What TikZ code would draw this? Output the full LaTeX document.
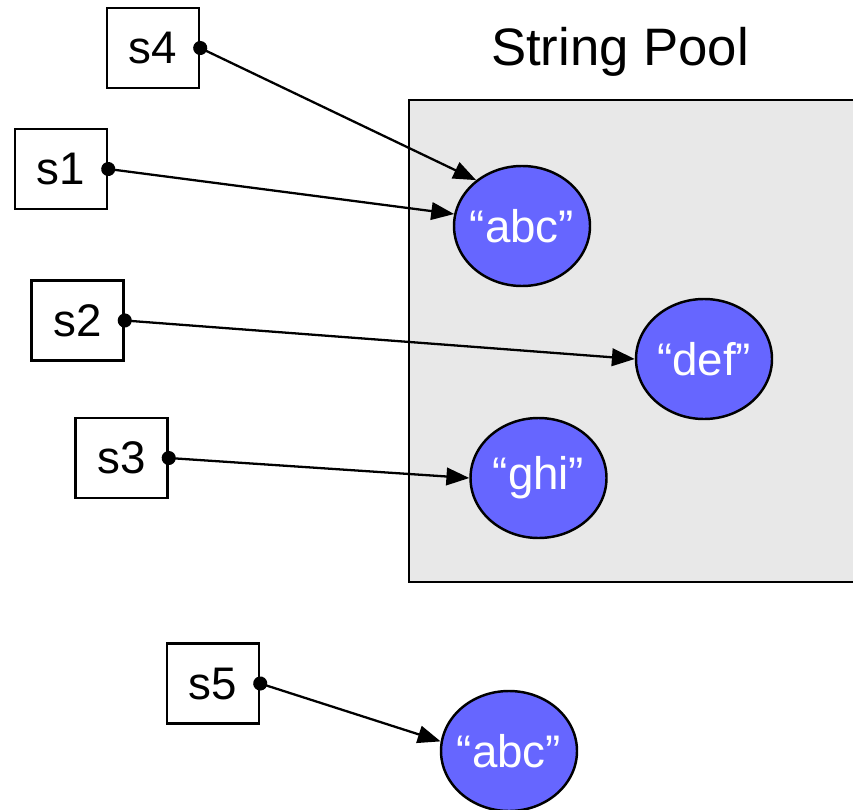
\documentclass[tikz,border=0pt]{standalone}
\usepackage{fontspec}
\setmainfont{Liberation Sans}
\usetikzlibrary{shapes.geometric,arrows.meta}
\definecolor{poolgray}{HTML}{E8E8E8}
\definecolor{strblue}{HTML}{6666FF}
\begin{document}
\begin{tikzpicture}[
  ref/.style={draw=black, line width=1.4pt, rectangle, minimum width=1.84cm, minimum height=1.6cm, inner sep=0pt, font=\fontsize{26}{30}\selectfont},
  str/.style={draw=black, line width=1.4pt, ellipse, fill=strblue, text=white, minimum width=2.72cm, minimum height=2.4cm, inner xsep=-3pt, inner ysep=0pt, font=\fontsize{26}{30}\selectfont},
  ptr/.style={line width=1.3pt, {Circle[length=8pt]}-{Triangle[length=13pt,width=10pt]}, shorten <=-4pt}
]
\useasboundingbox (0,0) rectangle (17.06,16.18);
\fill[poolgray] (8.18,4.54) rectangle (17.06,14.18);
\draw[line width=1.4pt] (17.06,14.18) -- (8.18,14.18) -- (8.18,4.54) -- (17.06,4.54);
\node[font=\fontsize{30}{35}\selectfont] (title) at (12.4,15.14) {String Pool};

\node[ref] (s4) at (3.06,15.22) {s4};
\node[ref] (s1) at (1.22,12.8)  {s1};
\node[ref] (s2) at (1.55,9.77)  {s2};
\node[ref] (s3) at (2.43,7.02)  {s3};
\node[ref] (s5) at (4.26,2.51)  {s5};

\node[str] (abc1) at (10.44,11.66) {“abc”};
\node[str] (def)  at (14.08,9.0)   {“def”};
\node[str] (ghi)  at (10.77,6.62)  {“ghi”};
\node[str] (abc2) at (10.18,1.16)  {“abc”};

\draw[ptr] (s4.east) -- (abc1.135);
\draw[ptr] (s1.east) -- (abc1.170);
\draw[ptr] (s2.east) -- (def.west);
\draw[ptr] (s3.east) -- (ghi.west);
\draw[ptr] (s5.east) -- (abc2.172);
\end{tikzpicture}
\end{document}
